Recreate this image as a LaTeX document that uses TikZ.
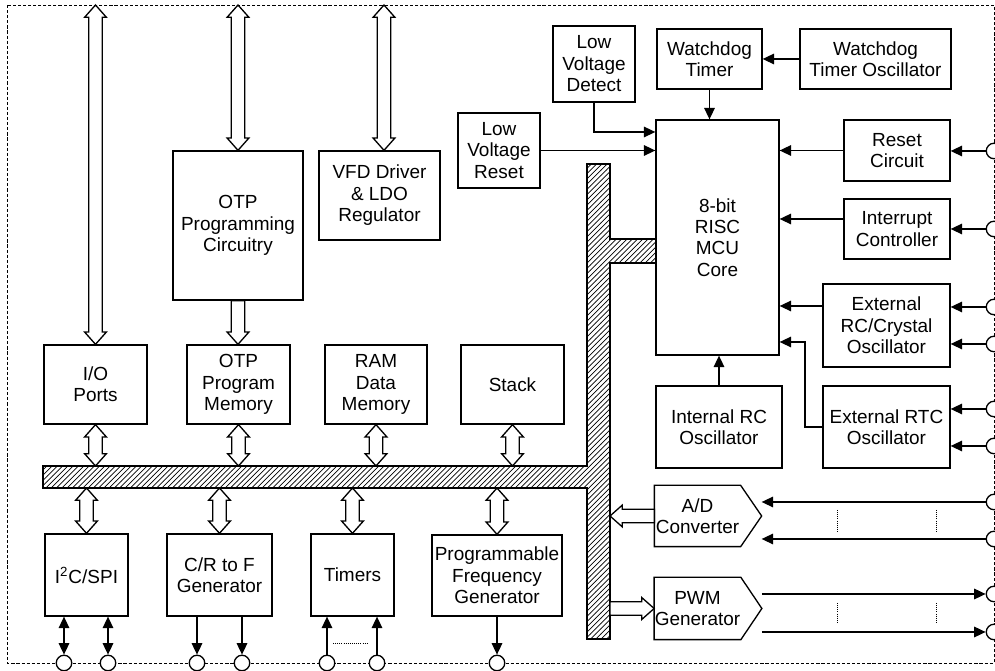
\documentclass[tikz,border=0pt]{standalone}
\usepackage{fontspec}
\setmainfont{Liberation Sans}
\usetikzlibrary{arrows.meta,calc,patterns}

\tikzset{
  blk/.style 2 args={draw, line width=0.75pt, align=center, inner sep=0pt,
    minimum width=#1*0.02cm, minimum height=#2*0.02cm},
  sig/.style={line width=0.75pt, -{Triangle[length=6.5pt,width=6pt]}},
  dsig/.style={line width=0.75pt, {Triangle[length=6.5pt,width=6pt]}-{Triangle[length=6.5pt,width=6pt]}},
  pinc/.style={circle, draw, fill=white, line width=0.75pt, minimum size=8.8pt, inner sep=0pt},
  hollow/.style={fill=white, line width=0.75pt, to path={
    let \p1=(\tikztostart), \p2=(\tikztotarget),
        \n1={atan2(\y2-\y1,\x2-\x1)}, \n2={veclen(\x2-\x1,\y2-\y1)} in
    {[shift={(\p1)}, rotate=\n1]
      (0pt,-3.8pt) -- ({\n2-7pt},-3.8pt) -- ({\n2-7pt},-6.2pt) -- (\n2,0pt)
      -- ({\n2-7pt},6.2pt) -- ({\n2-7pt},3.8pt) -- (0pt,3.8pt) -- cycle}}},
  dhollow/.style={fill=white, line width=0.75pt, to path={
    let \p1=(\tikztostart), \p2=(\tikztotarget),
        \n1={atan2(\y2-\y1,\x2-\x1)}, \n2={veclen(\x2-\x1,\y2-\y1)} in
    {[shift={(\p1)}, rotate=\n1]
      (0pt,0pt) -- (7pt,-6.2pt) -- (7pt,-3.8pt) -- ({\n2-7pt},-3.8pt) -- ({\n2-7pt},-6.2pt)
      -- (\n2,0pt) -- ({\n2-7pt},6.2pt) -- ({\n2-7pt},3.8pt) -- (7pt,3.8pt)
      -- (7pt,6.2pt) -- cycle}}},
}

\begin{document}
\begin{tikzpicture}[x=0.02cm, y=-0.02cm, font=\fontsize{10.8}{12.2}\selectfont]
\useasboundingbox (0,0) rectangle (995,671);
\draw[line width=0.55pt, dash pattern=on 1.8pt off 1.1pt] (7,5) rectangle (994,663);

% bus
\draw[line width=0.8pt, pattern=north east lines]
  (43,466) -- (587,466) -- (587,164) -- (610,164) -- (610,239) -- (656,239) -- (656,263)
  -- (610,263) -- (610,639) -- (587,639) -- (587,488) -- (43,488) -- cycle;
\coordinate (ttop) at (0,5);
\coordinate (bt) at (0,466);
\coordinate (bb) at (0,488);
\coordinate (br) at (610,0);

\node[blk={82}{76}] (lvd) at (594,64) {Low\\Voltage\\Detect};
\node[blk={105}{60}] (wdt) at (709.5,59) {Watchdog\\Timer};
\node[blk={151}{60}] (wdo) at (875.5,59) {Watchdog\\Timer Oscillator};
\node[blk={82}{75}] (lvr) at (499,150.5) {Low\\Voltage\\Reset};
\node[blk={123}{235}, fill=white] (mcu) at (717.5,237.5) {8-bit\\RISC\\MCU\\Core};
\node[blk={106}{61}] (rst) at (897,150.5) {Reset\\Circuit};
\node[blk={106}{60}] (irq) at (897,229) {Interrupt\\Controller};
\node[blk={127}{83}] (xrc) at (886.5,325.5) {External\\RC/Crystal\\Oscillator};
\node[blk={126}{82}] (irc) at (719,427) {Internal RC\\Oscillator};
\node[blk={127}{82}] (rtc) at (886.5,427) {External RTC\\Oscillator};
\node[blk={130}{149}] (otpc) at (238,225.5) {OTP\\Programming\\Circuitry};
\node[blk={121}{89}] (vfd) at (379.5,195.5) {VFD Driver\\\& LDO\\Regulator};
\node[blk={103}{79}] (iop) at (95.5,384.5) {I/O\\Ports};
\node[blk={103}{79}] (otpm) at (238.5,384.5) {OTP\\Program\\Memory};
\node[blk={102}{79}] (ram) at (376,384.5) {RAM\\Data\\Memory};
\node[blk={103}{79}] (stk) at (512.5,384.5) {Stack};
\node[blk={83}{82}] (i2c) at (86.5,575) {I\textsuperscript{2}C/SPI};
\node[blk={105}{82}] (crf) at (219.5,575) {C/R to F\\Generator};
\node[blk={83}{82}] (tmr) at (352.5,575) {Timers};
\node[blk={130}{81}] (pfg) at (497,575.5) {Programmable\\Frequency\\Generator};
\node[blk={85}{60}, draw=none] (adc) at (697.5,516) {A/D\\Converter};
\node[blk={85}{61}, draw=none] (pwm) at (697.5,608.5) {PWM\\Generator};
\coordinate (adct) at ($(adc.east)+(21,0)$);
\coordinate (pwmt) at ($(pwm.east)+(21,0)$);
\draw[line width=0.75pt] (adc.north west) -- (adc.north east) -- (adct) -- (adc.south east) -- (adc.south west) -- cycle;
\draw[line width=0.75pt] (pwm.north west) -- (pwm.north east) -- (pwmt) -- (pwm.south east) -- (pwm.south west) -- cycle;

% pins
\foreach \n/\y in {r1/151,r2/229,r3/307,r4/344,r5/409,r6/446,r7/502,r8/539,r9/594,r10/632}
  \node[pinc] (\n) at (994,\y) {};
\foreach \n/\x in {b1/64,b2/108,b3/197,b4/242,b5/327,b6/377,b7/497}
  \node[pinc] (\n) at (\x,663) {};

\draw[sig] (wdo.west) -- (wdt.east);
\draw[sig] (wdt.south) -- (wdt.south |- mcu.north);
\draw[sig] (lvd.south) |- (mcu.west |- 0,132);
\draw[sig] (lvr.east) -- (lvr.east -| mcu.west);
\draw[sig] (rst.west) -- (rst.west -| mcu.east);
\draw[sig] (irq.west |- 0,219) -- (mcu.east |- 0,219);
\draw[sig] (xrc.west |- 0,306) -- (mcu.east |- 0,306);
\draw[sig] (rtc.west) -| (805,342) -- (mcu.east |- 0,342);
\draw[sig] (irc.north) -- (irc.north |- mcu.south);

\draw[sig] (r1) -- (r1 -| rst.east);
\draw[sig] (r2) -- (r2 -| irq.east);
\draw[sig] (r3) -- (r3 -| xrc.east);
\draw[sig] (r4) -- (r4 -| xrc.east);
\draw[sig] (r5) -- (r5 -| rtc.east);
\draw[sig] (r6) -- (r6 -| rtc.east);
\draw[sig] (r7) -- (r7 -| adct);
\draw[sig] (r8) -- (r8 -| adct);
\draw[sig] (r9 -| pwmt) -- (r9);
\draw[sig] (r10 -| pwmt) -- (r10);
\foreach \x in {837,936} {
  \draw[line width=0.5pt, dash pattern=on 0.6pt off 0.6pt] (\x,510) -- (\x,532);
  \draw[line width=0.5pt, dash pattern=on 0.6pt off 0.6pt] (\x,603) -- (\x,624);
}

\draw[dsig] (b1) -- (b1 |- i2c.south);
\draw[dsig] (b2) -- (b2 |- i2c.south);
\draw[sig] (b3 |- crf.south) -- (b3);
\draw[sig] (b4 |- crf.south) -- (b4);
\draw[sig] (b5) -- (b5 |- tmr.south);
\draw[sig] (b6) -- (b6 |- tmr.south);
\draw[sig] (b7 |- pfg.south) -- (b7);
\draw[line width=0.5pt, dash pattern=on 0.6pt off 0.6pt] (333,643) -- (368,643);

% hollow buses
\coordinate (vfdin) at ($(vfd.north)+(4.5,0)$);
\draw[dhollow] (iop.north |- ttop) to (iop.north);
\draw[dhollow] (otpc.north |- ttop) to (otpc.north);
\draw[dhollow] (vfdin |- ttop) to (vfdin);
\draw[hollow] (otpc.south) to (otpc.south |- otpm.north);
\foreach \b in {iop,otpm,ram,stk}
  \draw[dhollow] (\b.south) to (\b.south |- bt);
\foreach \b in {i2c,crf,tmr,pfg}
  \draw[dhollow] (\b.north |- bb) to (\b.north);
\draw[hollow] (adc.west) to (adc.west -| br);
\draw[hollow] (pwm.west -| br) to (pwm.west);
\end{tikzpicture}
\end{document}
